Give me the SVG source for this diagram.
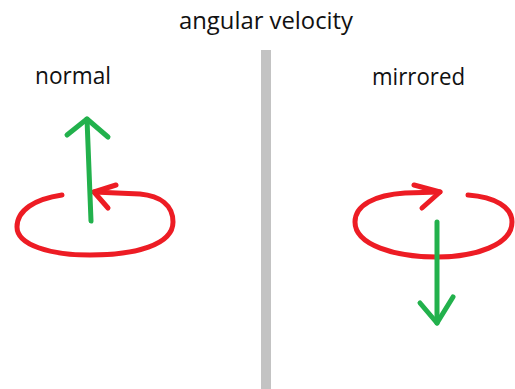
<svg xmlns="http://www.w3.org/2000/svg" width="515" height="389" viewBox="0 0 515 389">
<style>
.t{font-family:"Open Sans","Noto Sans","Liberation Sans",sans-serif;font-size:23px;fill:#111}
.r{fill:none;stroke:#ed1c24;stroke-width:5;stroke-linecap:round;stroke-linejoin:round}
.g{fill:none;stroke:#22b14c;stroke-width:5;stroke-linecap:round;stroke-linejoin:round}
</style>
<rect width="515" height="389" fill="#fff"/>
<text id="title" class="t" x="179" y="29" textLength="174" lengthAdjust="spacingAndGlyphs">angular velocity</text>
<rect id="divider" x="261" y="50" width="10" height="339" fill="#c3c3c3"/>
<g id="normal">
<text class="t" x="35" y="84" textLength="76" lengthAdjust="spacingAndGlyphs">normal</text>
<path class="r" d="M62,195 C35,199 17,210 17,227 C17,245 50,255 90,255 C135,255 173,245 173,222 C173,205 160,196 140,194 L94,192"/>
<path class="r" d="M116,185 L94,192 L108,208"/>
<path class="g" d="M91,221 L87,119"/>
<path class="g" d="M67,135 L87,119 L108,137"/>
</g>
<g id="mirrored">
<text class="t" x="372" y="85" textLength="93" lengthAdjust="spacingAndGlyphs">mirrored</text>
<path class="r" d="M468,195 C495,197 512,207 512,222 C512,245 475,257 437,257 C395,257 355,245 355,222 C355,205 375,195 405,193 L440,192"/>
<path class="r" d="M414,185 L440,192 L422,208"/>
<path class="g" d="M437,222 L437,323"/>
<path class="g" d="M420,303 L437,323 L453,297"/>
</g>
</svg>
